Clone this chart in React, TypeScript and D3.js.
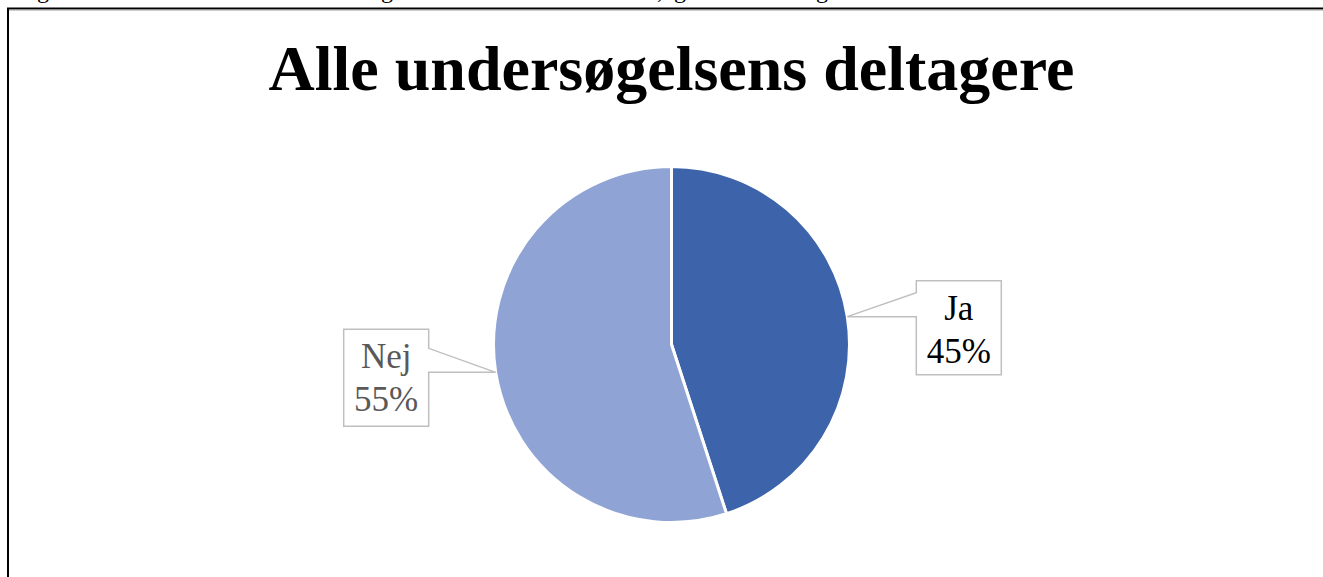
import React from "react";
import * as d3 from "d3";

const categories = ["Ja", "Nej"];
const values = [45, 55];
const labels = ["45%", "55%"];
const title = "Alle undersøgelsens deltagere";
const captionGlyphs = [
  { t: "g", x: 37 },
  { t: "g", x: 381 },
  { t: ",", x: 657 },
  { t: "g", x: 674 },
  { t: "g", x: 816 },
];

const W = 1323;
const H = 577;
const cx = 671.5;
const cy = 344.5;
const R = 178;
const colors = ["#3D64AB", "#8FA4D4"];
const textColors = ["#000000", "#595959"];
const FONT = "'Liberation Serif', 'Times New Roman', serif";

export default function App() {
  const pie = d3.pie<number>().sort(null).value((d) => d);
  const arcs = pie(values);
  const arcGen = d3.arc<d3.PieArcDatum<number>>().innerRadius(0).outerRadius(R);

  const boxW = 85;
  const notch = 24;

  return (
    <svg width={W} height={H} style={{ position: "absolute", left: 0, top: 0 }}>
      <rect x={0} y={0} width={W} height={H} fill="#fff" />
      {captionGlyphs.map((g, i) => (
        <text key={i} x={g.x} y={-2} fontFamily={FONT} fontSize={24} fill="#000">
          {g.t}
        </text>
      ))}
      <rect x={8} y={8.5} width={W + 20} height={H + 20} fill="none" stroke="#000" strokeWidth={2} />
      <line x1={9} x2={W} y1={10} y2={10} stroke="#9a9a9a" strokeWidth={1} />
      <text
        x={cx}
        y={90}
        textAnchor="middle"
        fontFamily={FONT}
        fontWeight="bold"
        fontSize={64}
        fill="#000"
      >
        {title}
      </text>
      <g transform={`translate(${cx},${cy})`}>
        {arcs.map((a, i) => (
          <path key={i} d={arcGen(a) || ""} fill={colors[i]} stroke="#fff" strokeWidth={3} strokeLinejoin="miter" />
        ))}
      </g>
      {arcs.map((a, i) => {
        const mid = (a.startAngle + a.endAngle) / 2;
        const ax = cx + R * Math.sin(mid);
        const ay = cy - R * Math.cos(mid);
        const right = Math.sin(mid) > 0;
        let d: string;
        let tx: number;
        let top: number;
        let bh: number;
        if (right) {
          const left = ax + 69;
          top = ay - 36;
          bh = 94;
          const r = left + boxW;
          d = `M${left},${top}H${r}V${top + bh}H${left}V${ay}L${ax},${ay}L${left},${ay - notch}Z`;
          tx = left + boxW / 2;
        } else {
          const r = ax - 67;
          const left = r - boxW;
          top = ay - 43;
          bh = 97;
          d = `M${left},${top}H${r}V${ay - notch}L${ax},${ay}L${r},${ay}V${top + bh}H${left}Z`;
          tx = left + boxW / 2;
        }
        return (
          <g key={"l" + i}>
            <path d={d} fill="#fff" stroke="#BFBFBF" strokeWidth={1.5} />
            <text x={tx} y={top + 39} textAnchor="middle" fontFamily={FONT} fontSize={35} fill={textColors[i]}>
              {categories[i]}
            </text>
            <text x={tx} y={top + 82} textAnchor="middle" fontFamily={FONT} fontSize={35} fill={textColors[i]}>
              {labels[i]}
            </text>
          </g>
        );
      })}
    </svg>
  );
}
